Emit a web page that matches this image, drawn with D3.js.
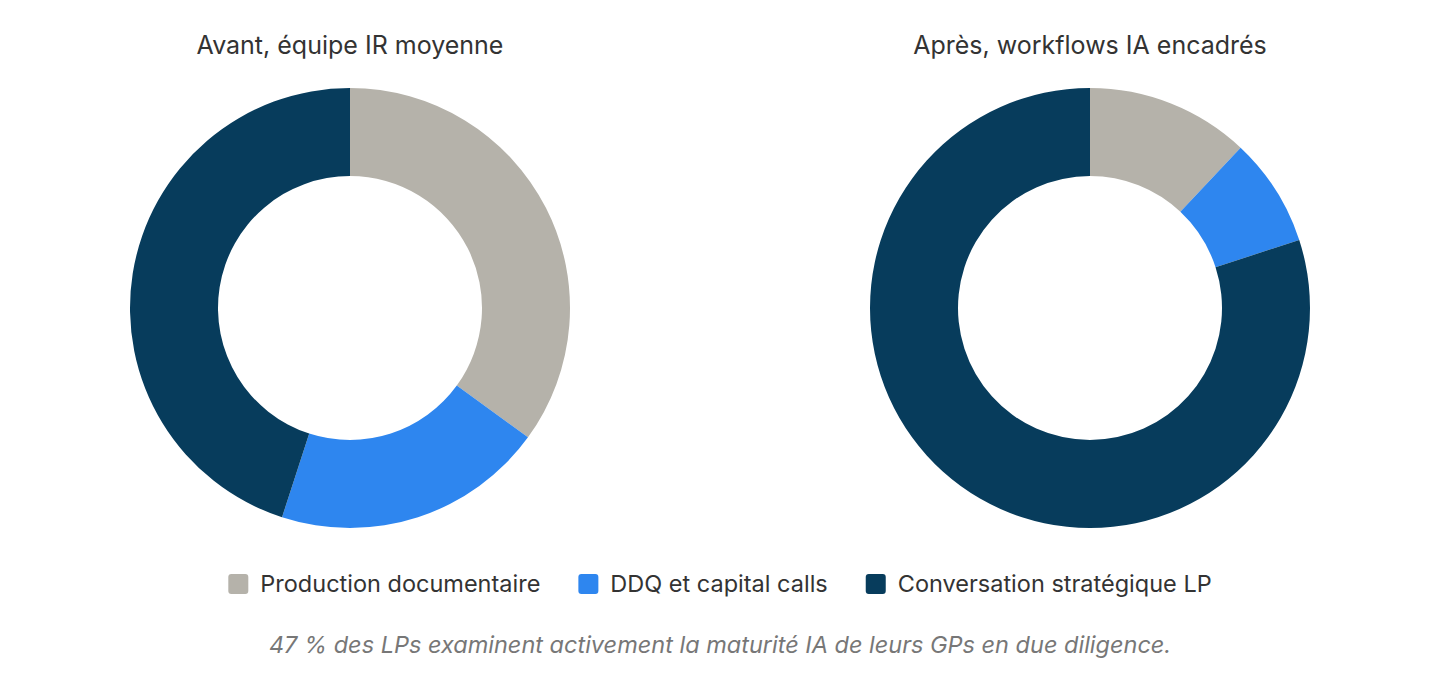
<!DOCTYPE html>
<html>
<head>
<meta charset="utf-8">
<script src="https://cdn.jsdelivr.net/npm/d3@7"></script>
<style>
  body { margin: 0; background: #fff; }
  svg { display: block; font-family: Inter, "Noto Sans", sans-serif; }
</style>
</head>
<body>
<svg id="chart" width="1440" height="692"></svg>
<script>
// categories and the two series (shares of IR team time, %)
var categories = ['Production documentaire', 'DDQ et capital calls', 'Conversation stratégique LP'];
var colors = ['#b5b2aa', '#2e86ef', '#073c5c'];
var titles = ['Avant, équipe IR moyenne', 'Après, workflows IA encadrés'];
var avant = [35, 20, 45];
var apres = [12, 8, 80];
var note = '47 % des LPs examinent activement la maturité IA de leurs GPs en due diligence.';

var svg = d3.select('#chart');
var width = 1440;

var outerR = 220, innerR = 132;
var centers = d3.scalePoint().domain([0, 1]).range([350, 1090]);
var cy = 308;

var color = d3.scaleOrdinal().domain(categories).range(colors);
var pie = d3.pie().sort(null).value(d => d.value);
var arc = d3.arc().innerRadius(innerR).outerRadius(outerR);

[avant, apres].forEach(function(series, i) {
  var g = svg.append('g')
    .attr('transform', 'translate(' + centers(i) + ',' + cy + ')');

  var data = series.map((v, k) => ({ cat: categories[k], value: v }));

  g.selectAll('path')
    .data(pie(data))
    .enter()
    .append('path')
    .attr('d', arc)
    .attr('fill', d => color(d.data.cat));

  svg.append('text')
    .attr('x', centers(i))
    .attr('y', 54)
    .attr('text-anchor', 'middle')
    .attr('font-size', 25)
    .attr('fill', '#333')
    .text(titles[i]);
});

// legend, centred under both donuts
var legend = svg.append('g');
var items = legend.selectAll('g')
  .data(categories)
  .enter()
  .append('g');

items.append('rect')
  .attr('width', 20).attr('height', 20)
  .attr('rx', 3).attr('ry', 3)
  .attr('y', -18)
  .attr('fill', d => color(d));

items.append('text')
  .attr('x', 32)
  .attr('font-size', 23.5)
  .attr('fill', '#333')
  .text(d => d);

var x = 0;
items.each(function() {
  var w = this.getBBox().width;
  d3.select(this).attr('transform', 'translate(' + x + ',0)');
  x += w + 38;
});
var total = x - 38;
legend.attr('transform', 'translate(' + (width / 2 - total / 2) + ',592)');

svg.append('text')
  .attr('x', width / 2)
  .attr('y', 653)
  .attr('text-anchor', 'middle')
  .attr('font-size', 23.5)
  .attr('font-style', 'italic')
  .attr('fill', '#777')
  .text(note);
</script>
</body>
</html>
